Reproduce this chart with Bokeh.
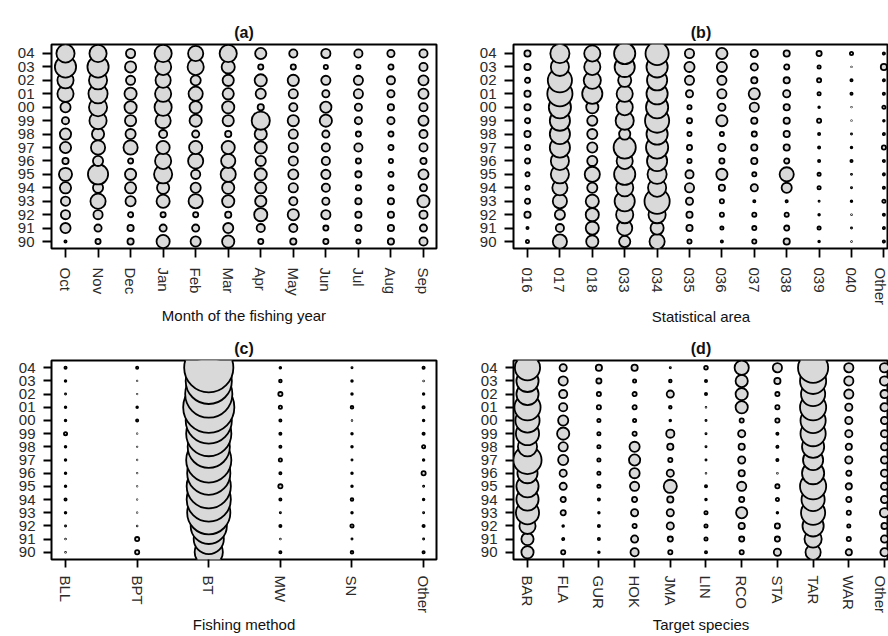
import math
from bokeh.plotting import figure
from bokeh.models import Range1d, FixedTicker
from bokeh.layouts import column, row
from bokeh.embed import file_html
from bokeh.resources import INLINE

# ---------------- data (relative catch index; bubble area ~ value) ----------------
years = ["90", "91", "92", "93", "94", "95", "96", "97", "98", "99", "00", "01", "02", "03", "04"]

months = ["Oct", "Nov", "Dec", "Jan", "Feb", "Mar", "Apr", "May", "Jun", "Jul", "Aug", "Sep"]
month_values = [
    [0.6, 5.3, 4.5, 4.5, 6.3, 8.3, 2.4, 6.3, 6.3, 3.0, 5.3, 12.0, 12.0, 19.6, 14.8],
    [1.8, 3.0, 4.5, 10.7, 5.3, 17.9, 5.3, 9.5, 7.3, 13.4, 14.8, 16.3, 14.8, 19.6, 13.4],
    [2.4, 2.4, 1.8, 5.3, 6.3, 6.3, 1.8, 9.5, 5.3, 6.3, 7.3, 7.3, 4.5, 6.3, 4.5],
    [8.3, 3.0, 1.8, 8.3, 7.3, 14.8, 12.0, 8.3, 3.7, 10.7, 13.4, 12.0, 10.7, 12.0, 13.4],
    [5.3, 3.0, 1.8, 9.5, 5.3, 4.5, 10.7, 8.3, 3.0, 7.3, 7.3, 9.5, 5.3, 12.0, 10.7],
    [7.3, 5.3, 2.4, 7.3, 7.3, 10.7, 9.5, 8.3, 2.4, 6.3, 7.3, 6.3, 6.3, 8.3, 13.4],
    [1.8, 3.7, 8.3, 6.3, 6.3, 7.3, 5.3, 7.3, 7.3, 14.8, 2.4, 5.3, 7.3, 1.8, 6.3],
    [2.4, 3.7, 6.3, 3.7, 4.5, 5.3, 4.5, 4.5, 4.5, 6.3, 3.7, 4.5, 6.3, 1.8, 3.7],
    [1.8, 1.8, 4.5, 3.0, 3.7, 4.5, 3.7, 3.7, 3.0, 7.3, 6.3, 3.0, 4.5, 1.33, 4.5],
    [1.33, 2.4, 2.4, 2.4, 1.8, 2.4, 1.8, 3.7, 1.8, 3.0, 3.0, 4.5, 4.5, 1.33, 3.7],
    [2.4, 2.4, 2.4, 2.4, 1.8, 1.8, 1.33, 1.8, 1.8, 3.0, 2.4, 3.0, 3.7, 1.8, 3.0],
    [3.7, 3.0, 3.7, 7.3, 3.0, 5.3, 2.4, 3.7, 3.7, 5.3, 3.7, 5.3, 5.3, 3.7, 3.7],
]

areas = ["016", "017", "018", "033", "034", "035", "036", "037", "038", "039", "040", "Other"]
area_values = [
    [0.93, 0.6, 2.4, 1.8, 1.33, 1.33, 1.8, 1.8, 2.4, 1.8, 2.4, 2.4, 1.8, 2.4, 2.4],
    [9.5, 3.7, 5.3, 9.5, 10.7, 14.8, 14.8, 17.9, 17.9, 17.9, 21.3, 27.0, 25.0, 14.8, 16.3],
    [7.3, 8.3, 8.3, 8.3, 5.3, 10.7, 5.3, 5.3, 5.3, 5.3, 7.3, 17.9, 13.4, 12.0, 12.0],
    [6.3, 10.7, 13.4, 17.9, 13.4, 19.6, 12.0, 21.3, 6.3, 14.8, 12.0, 12.0, 8.3, 17.9, 19.6],
    [10.7, 8.3, 13.4, 27.0, 14.8, 16.3, 17.9, 21.3, 19.6, 25.0, 21.3, 19.6, 17.9, 19.6, 23.1],
    [1.33, 2.4, 2.4, 3.0, 4.5, 3.7, 1.33, 1.8, 1.33, 1.8, 1.33, 3.0, 4.5, 5.3, 4.5],
    [0.6, 0.93, 1.33, 1.33, 2.4, 6.3, 1.8, 3.0, 1.33, 6.3, 3.0, 4.5, 4.5, 5.3, 6.3],
    [1.33, 1.33, 1.33, 0.6, 3.0, 1.33, 2.4, 2.4, 1.8, 2.4, 4.5, 6.3, 2.4, 3.0, 3.0],
    [2.4, 1.8, 1.33, 0.6, 5.3, 9.5, 1.8, 2.4, 2.4, 2.4, 2.4, 3.0, 2.4, 1.8, 2.4],
    [0.45, 0.93, 0.45, 0.33, 0.93, 0.93, 0.6, 0.6, 0.6, 1.33, 0.45, 0.93, 1.33, 0.93, 1.8],
    [0.23, 0.33, 0.23, 0.45, 0.33, 0.33, 0.6, 0.45, 0.33, 0.15, 0.08, 0.6, 0.6, 0.15, 0.93],
    [0.6, 0.6, 0.6, 0.93, 0.6, 0.6, 0.6, 1.33, 0.6, 0.45, 0.93, 0.6, 0.6, 2.4, 0.6],
]

methods = ["BLL", "BPT", "BT", "MW", "SN", "Other"]
method_values = [
    [0.23, 0.23, 0.33, 0.45, 0.6, 0.45, 0.45, 0.45, 0.45, 0.93, 0.45, 0.45, 0.33, 0.45, 0.6],
    [1.33, 1.33, 0.23, 0.15, 0.15, 0.15, 0.15, 0.15, 0.15, 0.15, 0.6, 0.45, 0.15, 0.15, 0.6],
    [33.3, 37.9, 53.5, 75.0, 78.4, 78.4, 75.0, 81.8, 71.7, 81.8, 85.3, 104.0, 88.9, 85.3, 96.3],
    [0.6, 0.23, 0.6, 0.33, 0.6, 1.33, 0.6, 0.93, 0.6, 0.6, 0.6, 0.93, 1.33, 0.75, 0.45],
    [0.75, 0.33, 0.93, 0.45, 0.75, 0.45, 0.45, 0.33, 0.45, 0.45, 0.23, 0.75, 0.45, 0.45, 0.33],
    [0.6, 0.33, 0.6, 0.33, 0.45, 0.33, 1.33, 0.45, 0.93, 0.6, 0.45, 0.6, 0.45, 0.23, 0.6],
]

species = ["BAR", "FLA", "GUR", "HOK", "JMA", "LIN", "RCO", "STA", "TAR", "WAR", "Other"]
species_values = [
    [7.3, 7.3, 12.0, 23.1, 21.3, 21.3, 17.9, 33.3, 16.3, 23.1, 25.0, 29.0, 21.3, 21.3, 27.0],
    [1.33, 0.6, 0.45, 1.8, 1.8, 3.0, 3.0, 5.3, 4.5, 7.3, 5.3, 3.7, 3.7, 4.5, 3.0],
    [0.45, 0.6, 0.6, 0.45, 0.6, 0.93, 0.93, 0.93, 0.93, 0.93, 0.93, 1.33, 1.33, 1.8, 2.4],
    [3.7, 3.0, 1.33, 3.0, 1.8, 4.5, 5.3, 6.3, 5.3, 1.33, 0.93, 1.33, 1.33, 0.93, 2.4],
    [1.33, 1.8, 3.0, 3.0, 2.4, 8.3, 3.0, 1.33, 2.4, 3.7, 0.45, 0.75, 3.0, 0.75, 0.33],
    [0.6, 0.93, 0.93, 0.93, 0.45, 0.6, 0.23, 0.33, 0.33, 0.33, 0.33, 0.23, 0.6, 0.6, 1.1],
    [1.33, 1.8, 2.4, 6.3, 1.8, 4.5, 2.4, 3.0, 2.4, 3.0, 1.33, 7.3, 7.3, 7.3, 9.5],
    [3.0, 1.8, 1.8, 0.45, 0.93, 1.33, 0.23, 0.6, 0.6, 0.6, 1.33, 1.33, 1.33, 2.4, 4.5],
    [10.7, 13.4, 19.6, 25.0, 23.1, 29.0, 21.3, 17.9, 21.3, 27.0, 27.0, 29.0, 25.0, 29.0, 37.9],
    [2.4, 1.33, 0.93, 1.33, 1.8, 2.4, 1.8, 3.0, 2.4, 3.0, 3.0, 3.0, 4.5, 4.5, 4.5],
    [3.7, 3.0, 2.4, 4.5, 3.0, 3.0, 3.0, 3.0, 3.0, 3.0, 3.0, 3.7, 3.7, 4.5, 4.5],
]

# ---------------- styling ----------------
FONT = "Liberation Sans"
SCALE = math.sqrt(27.0)   # px of diameter per sqrt(value)
LW = 1.8
FILL = "#d9d9d9"


def make_panel(title, cats, values, xlabel, fw, fh, mb, x_lo, x_hi, y_lo, y_hi,
               tick_out, lab_standoff, axlab_standoff):
    left, right, top, bottom = mb
    p = figure(frame_width=fw, frame_height=fh, output_backend="svg", toolbar_location=None,
               x_range=Range1d(x_lo, x_hi), y_range=Range1d(y_lo, y_hi),
               min_border_left=left, min_border_right=right,
               min_border_top=top, min_border_bottom=bottom,
               title=title)
    p.title.align = "center"
    p.title.text_font = FONT
    p.title.text_font_size = "16px"
    p.title.text_font_style = "bold"
    p.title.text_color = "#111111"
    p.title.standoff = 8
    p.outline_line_color = "black"
    p.outline_line_width = 2
    p.xgrid.visible = False
    p.ygrid.visible = False
    p.background_fill_color = "white"
    p.border_fill_color = "white"

    xs, ys, sz = [], [], []
    for yi in range(len(years)):
        for ci, col in enumerate(values):
            xs.append(ci)
            ys.append(yi)
            sz.append(max(SCALE * math.sqrt(col[yi]) - LW, 0.5))
    p.scatter(xs, ys, size=sz, marker="circle", fill_color=FILL,
              line_color="black", line_width=LW)

    for ax in (p.xaxis[0], p.yaxis[0]):
        ax.axis_line_color = None
        ax.major_tick_line_color = "black"
        ax.major_tick_line_width = 1.8
        ax.major_tick_out = tick_out
        ax.major_tick_in = 0
        ax.minor_tick_line_color = None
        ax.major_label_text_font = FONT
        ax.major_label_text_color = "#2a2a2a"
        ax.major_label_text_font_size = "15px"

    p.xaxis.ticker = FixedTicker(ticks=list(range(len(cats))))
    p.xaxis.major_label_overrides = {i: c for i, c in enumerate(cats)}
    p.xaxis.major_label_orientation = -math.pi / 2
    p.xaxis.major_label_standoff = lab_standoff
    p.xaxis.axis_label = xlabel
    p.xaxis.axis_label_text_font = FONT
    p.xaxis.axis_label_text_font_size = "15px"
    p.xaxis.axis_label_text_font_style = "normal"
    p.xaxis.axis_label_text_color = "#111111"
    p.xaxis.axis_label_standoff = axlab_standoff

    p.yaxis.ticker = FixedTicker(ticks=list(range(len(years))))
    p.yaxis.major_label_overrides = {i: y for i, y in enumerate(years)}
    p.yaxis.major_label_standoff = 8
    return p


# margins: (left, right, top, bottom)
pa = make_panel("(a)", months, month_values, "Month of the fishing year",
                385, 204, (51, 4, 44, 80), -0.43, 11.4, -0.52, 14.67, 9, 10, 8)
pb = make_panel("(b)", areas, area_values, "Statistical area",
                375, 204, (73, 0, 44, 80), -0.432, 11.142, -0.52, 14.67, 9, 10, 0)
pc = make_panel("(c)", methods, method_values, "Fishing method",
                385, 199, (51, 4, 32, 77), -0.196, 5.18, -0.55, 14.55, 8, 8, 0)
pd = make_panel("(d)", species, species_values, "Target species",
                375, 199, (73, 0, 32, 77), -0.392, 10.112, -0.55, 14.55, 8, 8, 0)

layout = column(row(pa, pb), row(pc, pd))
open("out.html", "w").write(file_html(layout, INLINE))
